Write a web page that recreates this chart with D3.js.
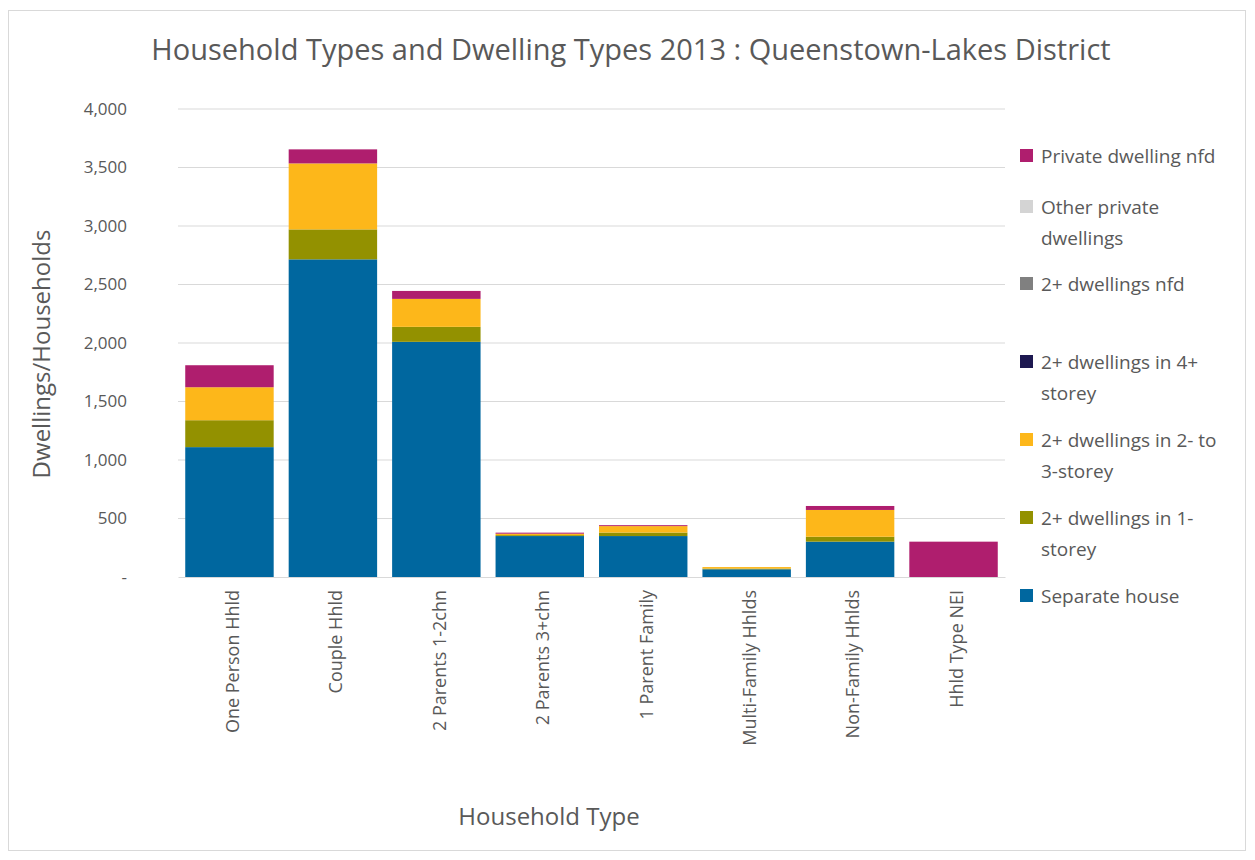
<!DOCTYPE html>
<html>
<head>
<meta charset="utf-8">
<script src="https://cdn.jsdelivr.net/npm/d3@7"></script>
<style>
  body { margin: 0; background: #fff; }
  text { font-family: "Open Sans", "Noto Sans", sans-serif; fill: #595959; }
</style>
</head>
<body>
<div id="chart"></div>
<script>
// chart data
const categories = ["One Person Hhld", "Couple Hhld", "2 Parents 1-2chn", "2 Parents 3+chn",
  "1 Parent Family", "Multi-Family Hhlds", "Non-Family Hhlds", "Hhld Type NEI"];
const seriesNames = ["Separate house", "2+ dwellings in 1-storey", "2+ dwellings in 2- to 3-storey",
  "2+ dwellings in 4+ storey", "2+ dwellings nfd", "Other private dwellings", "Private dwelling nfd"];
const separateHouse   = [1110, 2715, 2010, 350, 350, 66, 302, 0];
const oneStorey       = [230, 256, 128, 8, 30, 6, 42, 0];
const twoThreeStorey  = [282, 564, 239, 12, 55, 13, 229, 0];
const fourPlusStorey  = [0, 0, 0, 0, 0, 0, 0, 0];
const dwellingsNfd    = [0, 0, 0, 0, 0, 0, 0, 0];
const otherPrivate    = [0, 0, 0, 0, 0, 0, 0, 0];
const privateNfd      = [188, 120, 68, 9, 8, 0, 34, 302];
const yTicks = [0, 500, 1000, 1500, 2000, 2500, 3000, 3500, 4000];
const colors = ["#00679f", "#939100", "#fdb71a", "#1d1850", "#808080", "#d4d4d4", "#af1e6e"];

const allSeries = [separateHouse, oneStorey, twoThreeStorey, fourPlusStorey, dwellingsNfd, otherPrivate, privateNfd];
const rows = categories.map((c, i) => {
  const r = {category: c};
  seriesNames.forEach((s, j) => r[s] = allSeries[j][i]);
  return r;
});

const W = 1255, H = 860;
const margin = {top: 109, right: 250, bottom: 283, left: 178},
    width = W - margin.left - margin.right,
    height = H - margin.top - margin.bottom;

const root = d3.select("#chart").append("svg")
    .attr("width", W)
    .attr("height", H);

// outer frame
root.append("rect")
  .attr("x", 8.5).attr("y", 10.5)
  .attr("width", 1237).attr("height", 840)
  .attr("fill", "#fff").attr("stroke", "#d9d9d9");

root.append("text")
  .attr("x", 631).attr("y", 60)
  .attr("text-anchor", "middle")
  .style("font-size", "29px")
  .text("Household Types and Dwelling Types 2013 : Queenstown-Lakes District");

const svg = root.append("g")
  .attr("transform", `translate(${margin.left}, ${margin.top})`);

const xScale = d3.scaleBand().domain(categories).range([0, width]).paddingInner(0.145).paddingOuter(0.07);
const yScale = d3.scaleLinear().domain([0, 4000]).range([height, 0]);

// gridlines
svg.append("g")
  .selectAll("line")
  .data(yTicks.slice(1))
  .enter()
  .append("line")
  .attr("x1", 0).attr("x2", width)
  .attr("y1", d => yScale(d)).attr("y2", d => yScale(d))
  .attr("stroke", "#d9d9d9");

// y axis
const yAxis = svg.append("g")
  .attr("transform", "translate(-48,0)")
  .call(d3.axisLeft(yScale).tickValues(yTicks).tickSize(0)
    .tickFormat(d => d === 0 ? "-" : d3.format(",")(d)));
yAxis.select(".domain").remove();
yAxis.selectAll("text").style("font-size", "17px").attr("fill", "#595959");

const stack = d3.stack().keys(seriesNames);
const stacked = stack(rows);

svg.selectAll(".layer")
  .data(stacked)
  .enter()
  .append("g")
  .attr("class", "layer")
  .attr("fill", (d, i) => colors[i])
  .selectAll("rect")
  .data(d => d)
  .enter()
  .append("rect")
  .attr("x", d => xScale(d.data.category))
  .attr("y", d => yScale(d[1]))
  .attr("width", xScale.bandwidth())
  .attr("height", d => yScale(d[0]) - yScale(d[1]));

// x axis
const xAxis = svg.append("g")
  .attr("transform", `translate(0, ${height})`)
  .call(d3.axisBottom(xScale).tickSize(0));
xAxis.select(".domain").attr("stroke", "#d9d9d9");
xAxis.selectAll("text")
  .style("font-size", "18px")
  .attr("fill", "#595959")
  .style("text-anchor", "end")
  .attr("dx", "-13px")
  .attr("dy", "0.35em")
  .attr("transform", "rotate(-90)");

root.append("text")
  .attr("transform", "translate(50, 354) rotate(-90)")
  .attr("text-anchor", "middle")
  .style("font-size", "24px")
  .text("Dwellings/Households");

root.append("text")
  .attr("x", 549).attr("y", 825)
  .attr("text-anchor", "middle")
  .style("font-size", "24px")
  .text("Household Type");

// legend (reverse order)
const legendItems = [
  {name: 6, lines: ["Private dwelling nfd"], y: 156},
  {name: 5, lines: ["Other private", "dwellings"], y: 207},
  {name: 4, lines: ["2+ dwellings nfd"], y: 284},
  {name: 3, lines: ["2+ dwellings in 4+", "storey"], y: 362},
  {name: 2, lines: ["2+ dwellings in 2- to", "3-storey"], y: 440},
  {name: 1, lines: ["2+ dwellings in 1-", "storey"], y: 518},
  {name: 0, lines: ["Separate house"], y: 596}
];
const legend = root.append("g");
const li = legend.selectAll("g").data(legendItems).enter().append("g")
  .attr("transform", d => `translate(1020, ${d.y})`);
li.append("rect")
  .attr("x", 0).attr("y", -7)
  .attr("width", 13).attr("height", 13)
  .attr("fill", d => colors[d.name]);
li.each(function(d) {
  const t = d3.select(this).append("text")
    .attr("x", 21).attr("y", 7)
    .style("font-size", "19px");
  d.lines.forEach((l, k) => t.append("tspan").attr("x", 21).attr("dy", k === 0 ? 0 : 31).text(l));
});
</script>
</body>
</html>
